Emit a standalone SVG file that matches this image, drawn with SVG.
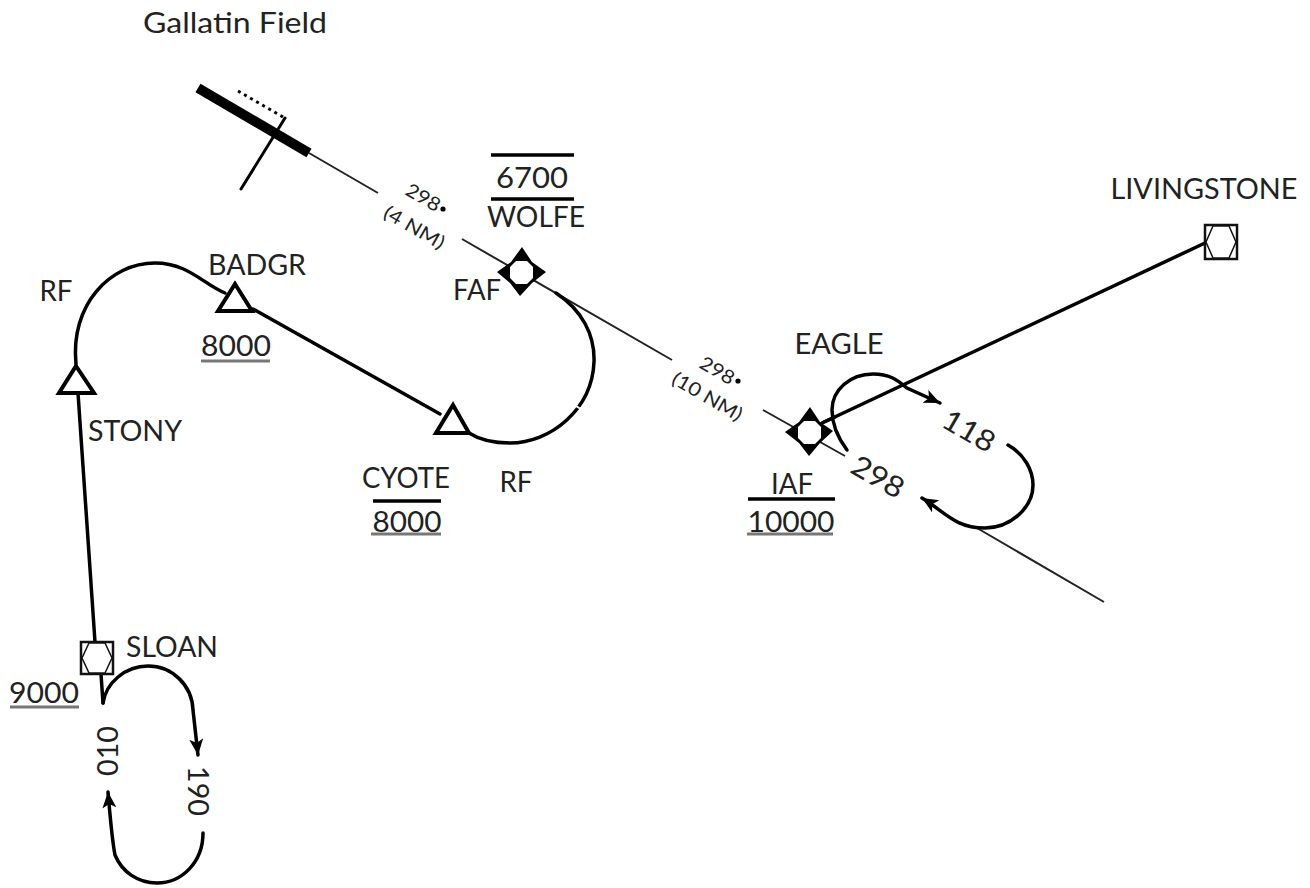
<svg xmlns="http://www.w3.org/2000/svg" width="1310" height="888" viewBox="0 0 1310 888">
<defs>
<marker id="ah" markerUnits="userSpaceOnUse" markerWidth="18" markerHeight="16" refX="16" refY="7" orient="auto"><path d="M0 0L16 7L0 14L4 7Z" fill="#000"/></marker>
</defs>
<style>
text{font-family:Lato,"Liberation Sans",sans-serif;font-size:29px;fill:#222;text-anchor:middle}
.s{font-size:19px}
.c{fill:none;stroke:#000;stroke-width:3.5;stroke-linecap:round}
.t{fill:none;stroke:#222;stroke-width:2}
.b{fill:none;stroke:#000;stroke-width:3.5}
.g{fill:none;stroke:#777;stroke-width:3}
.tri{fill:#fff;stroke:#000;stroke-width:4;stroke-linejoin:miter}
.box{fill:#fff;stroke:#111;stroke-width:2.5}
.hex{fill:#fff;stroke:#111;stroke-width:1.5}
.dot{fill:#000}
</style>
<g id="connectors">
<path class="t" d="M309 153L378 193M462 239L672 360M763 410L845 456M977 528L1104 602"/>
<path class="c" d="M1205 243L822 423"/>
<path class="c" d="M253 309L440 414"/>
<path class="c" d="M78 393L95 642M101 674L103 703"/>
<path class="c" d="M76 364C70 305 110 263 155 263C188 263 203 284 225 293"/>
<path class="c" d="M556 293C582 310 595 335 594 362C592 410 550 443 510 443C495 443 480 440 469 433"/>
<path d="M576 406L584 411" stroke="#fff" stroke-width="2" fill="none"/>
<path class="c" d="M847 450C838 438 832 425 832 410C832 390 850 374 873 374C890 374 897 380 907 388L940 403" marker-end="url(#ah)"/>
<path class="c" d="M1008 445C1024 454 1033 470 1033 485C1033 508 1010 528 985 528C955 528 945 512 922 498" marker-end="url(#ah)"/>
<path class="c" d="M103 703C106 683 125 666 148 666C172 666 192 685 193 710L198 755" marker-end="url(#ah)"/>
<path class="c" d="M203 833C203 862 182 883 157 883C138 883 122 872 115 855C112 840 110 815 108 792" marker-end="url(#ah)"/>
</g>
<g id="runway">
<path d="M198 88L309 153" fill="none" stroke="#000" stroke-width="10" stroke-linejoin="round"/>
<path d="M238 91L283 117" fill="none" stroke="#000" stroke-width="3" stroke-dasharray="3 4"/>
<path d="M285 118L241 189" fill="none" stroke="#000" stroke-width="3" stroke-linecap="round"/>
<text x="235" y="33" textLength="184" lengthAdjust="spacingAndGlyphs">Gallatin Field</text>
</g>
<g id="leg-4nm">
<text class="s" transform="translate(423 198) rotate(30)" y="6" textLength="37" lengthAdjust="spacingAndGlyphs">298</text>
<circle class="dot" cx="443" cy="209" r="2.6"/>
<text class="s" transform="translate(414 228) rotate(30)" y="6" textLength="67" lengthAdjust="spacingAndGlyphs">(4 NM)</text>
</g>
<g id="leg-10nm">
<text class="s" transform="translate(717 371) rotate(30)" y="6" textLength="37" lengthAdjust="spacingAndGlyphs">298</text>
<circle class="dot" cx="738" cy="381" r="2.6"/>
<text class="s" transform="translate(707 397) rotate(30)" y="6" textLength="78" lengthAdjust="spacingAndGlyphs">(10 NM)</text>
</g>
<g id="wolfe">
<path d="M522 247L532 262L546 272L532 283L520 296L510 283L497 272L511 262Z" fill="#000"/>
<path d="M516 261H527L533 267V278L527 284H516L510 278V267Z" fill="#fff"/>
<path class="b" d="M491 155H574M491 199H574"/>
<text x="532" y="188" textLength="72" lengthAdjust="spacingAndGlyphs">6700</text>
<text x="536" y="227" textLength="98" lengthAdjust="spacingAndGlyphs">WOLFE</text>
<text x="477" y="300" textLength="48" lengthAdjust="spacingAndGlyphs">FAF</text>
</g>
<g id="eagle">
<path d="M810 407L820 422L833 431L820 443L809 456L799 443L785 432L799 422Z" fill="#000"/>
<path d="M804 421H815L821 427V438L815 444H804L798 438V427Z" fill="#fff"/>
<path class="c" d="M824 422L835 417"/>
<text x="839" y="354" textLength="89" lengthAdjust="spacingAndGlyphs">EAGLE</text>
<text x="792" y="494" textLength="42" lengthAdjust="spacingAndGlyphs">IAF</text>
<path class="b" d="M748 499H835"/>
<text x="791" y="532" textLength="87" lengthAdjust="spacingAndGlyphs">10000</text>
<path class="g" d="M747 534H833"/>
<text transform="translate(969 431) rotate(30)" y="10" textLength="56" lengthAdjust="spacingAndGlyphs">118</text>
<text transform="translate(878 477) rotate(30)" y="10" textLength="56" lengthAdjust="spacingAndGlyphs">298</text>
</g>
<g id="livingstone">
<rect class="box" x="1205" y="225" width="32" height="34"/>
<path class="hex" d="M1213 226H1229L1236 242L1229 258H1213L1206 242Z"/>
<text x="1204" y="199" textLength="187" lengthAdjust="spacingAndGlyphs">LIVINGSTONE</text>
</g>
<g id="badgr">
<path class="tri" d="M235 284L252 311H218Z"/>
<text x="257" y="275" textLength="98" lengthAdjust="spacingAndGlyphs">BADGR</text>
<text x="236" y="356" textLength="70" lengthAdjust="spacingAndGlyphs">8000</text>
<path class="g" d="M201 361H270"/>
</g>
<g id="cyote">
<path class="tri" d="M453 405L469 433H436Z"/>
<text x="406" y="488" textLength="88" lengthAdjust="spacingAndGlyphs">CYOTE</text>
<path class="b" d="M373 501H441"/>
<text x="407" y="532" textLength="69" lengthAdjust="spacingAndGlyphs">8000</text>
<path class="g" d="M371 534H441"/>
<text x="516" y="492" textLength="33" lengthAdjust="spacingAndGlyphs">RF</text>
</g>
<g id="stony">
<path class="tri" d="M76 366L94 393H59Z"/>
<text x="135" y="441" textLength="94" lengthAdjust="spacingAndGlyphs">STONY</text>
<text x="56" y="301" textLength="33" lengthAdjust="spacingAndGlyphs">RF</text>
</g>
<g id="sloan">
<rect class="box" x="81" y="642" width="32" height="32"/>
<path class="hex" d="M89 643H105L112 658L105 673H89L82 658Z"/>
<text x="172" y="657" textLength="92" lengthAdjust="spacingAndGlyphs">SLOAN</text>
<text x="44" y="703" textLength="70" lengthAdjust="spacingAndGlyphs">9000</text>
<path class="g" d="M10 707H79"/>
<text transform="translate(108 751) rotate(-90)" y="10" textLength="50" lengthAdjust="spacingAndGlyphs">010</text>
<text transform="translate(198 791) rotate(90)" y="10" textLength="50" lengthAdjust="spacingAndGlyphs">190</text>
</g>
</svg>
